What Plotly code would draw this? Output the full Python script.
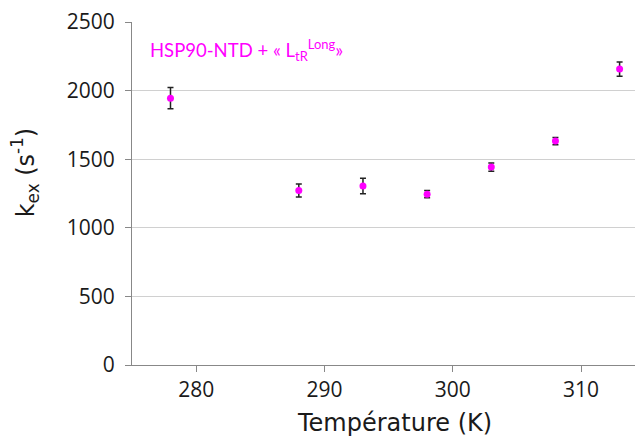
import plotly.graph_objects as go

temperature = [278, 288, 293, 298, 303, 308, 313]
kex = [1945, 1272, 1305, 1245, 1443, 1632, 2157]
kex_err = [78, 48, 57, 26, 30, 26, 52]

y_ticks = [0, 500, 1000, 1500, 2000, 2500]
x_ticks = [280, 290, 300, 310]

fig = go.Figure()
fig.add_trace(go.Scatter(
    x=temperature, y=kex, mode="markers",
    marker=dict(color="#ff00ff", size=7),
    error_y=dict(type="data", array=kex_err, visible=True,
                 color="#222222", thickness=1.5, width=3),
    cliponaxis=False,
    showlegend=False,
))

fig.update_layout(
    width=635, height=436,
    margin=dict(l=132, r=0, t=22, b=71),
    plot_bgcolor="white", paper_bgcolor="white",
    font=dict(family="Open Sans", color="#1a1a1a"),
    xaxis=dict(
        range=[275, 314.2], tickvals=x_ticks,
        ticks="outside", ticklen=6, tickcolor="#888888",
        showline=True, linecolor="#888888", linewidth=1,
        showgrid=False, zeroline=False,
        tickfont=dict(size=21, family="Open Sans"),
    ),
    yaxis=dict(
        range=[0, 2500], tickvals=y_ticks,
        ticks="outside", ticklen=6, tickcolor="#888888",
        showline=True, linecolor="#888888", linewidth=1,
        showgrid=True, gridcolor="#d0d0d0", gridwidth=1,
        zeroline=False, ticklabelstandoff=6,
        tickfont=dict(size=21, family="Open Sans"),
    ),
    annotations=[
        dict(
            text="HSP90-NTD + « L<sub>tR</sub><sup>Long</sup>»",
            x=0.032, y=0.918, xref="paper", yref="paper",
            xanchor="left", yanchor="middle", showarrow=False,
            font=dict(size=18.5, color="#ff00ff", family="Lato"),
        ),
        dict(
            text="Température (K)",
            x=(394 - 132) / 503, y=-0.17, xref="paper", yref="paper",
            xanchor="center", yanchor="middle", showarrow=False,
            font=dict(size=24, family="DejaVu Sans", color="#1a1a1a"),
        ),
        dict(
            text="k<sub>ex</sub> (s<sup>-1</sup>)",
            x=-0.212, y=0.56, xref="paper", yref="paper",
            xanchor="center", yanchor="middle", showarrow=False,
            textangle=-90,
            font=dict(size=24, family="DejaVu Sans", color="#1a1a1a"),
        ),
    ],
)

fig.write_html("out.html", config={"displayModeBar": False},
               post_script="document.body.style.margin='0';")
